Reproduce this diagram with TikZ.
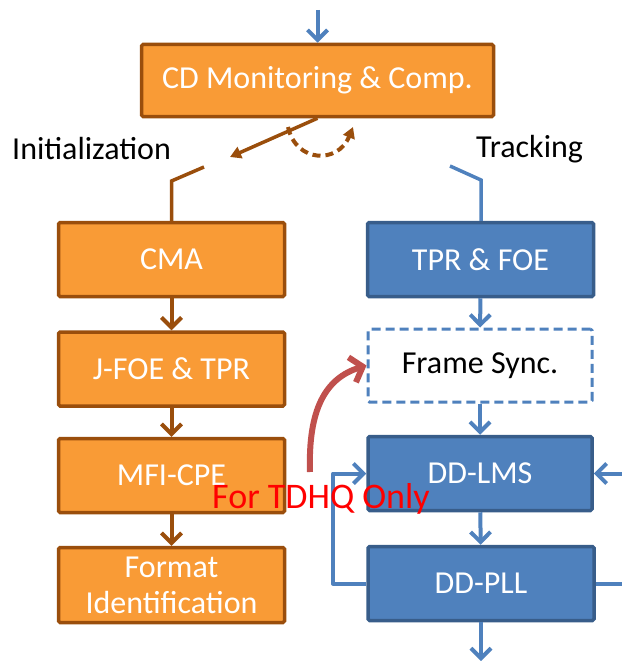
\documentclass[tikz,border=0pt]{standalone}
\usepackage{fontspec}
\setmainfont{Carlito}
\usetikzlibrary{arrows.meta}
\definecolor{orfill}{HTML}{F99B36}
\definecolor{orline}{HTML}{9A4E0C}
\definecolor{blfill}{HTML}{4F81BD}
\definecolor{blline}{HTML}{385D8A}
\definecolor{redarr}{HTML}{C0504D}
\tikzset{
  obox/.style={draw=orline, fill=orfill, line width=3.5pt, rounded corners=1.5pt, inner sep=0pt,
    text=white, font=\fontsize{32}{37}\selectfont, align=center},
  bbox/.style={draw=blline, fill=blfill, line width=3.5pt, rounded corners=1.5pt, inner sep=0pt,
    text=white, font=\fontsize{32}{37}\selectfont, align=center},
  dbox/.style={draw=blfill, fill=white, line width=3pt, rounded corners=1.5pt, inner sep=0pt,
    dash pattern=on 9pt off 5pt, text=black, font=\fontsize{32}{37}\selectfont},
  oarr/.style={draw=orline, line width=4pt, -{Straight Barb[length=10pt,width=20pt]}},
  barr/.style={draw=blfill, line width=4pt, -{Straight Barb[length=10pt,width=20pt]}},
  lbl/.style={font=\fontsize{32}{37}\selectfont, text=black, inner sep=0pt}
}
\begin{document}
\begin{tikzpicture}[x=1pt,y=-1pt]
\useasboundingbox (0,0) rectangle (621,661);
% top
\node[obox, minimum width=352pt, minimum height=72pt] (cd) at (317.5,80.5) {CD Monitoring \& Comp.};
\coordinate (in) at (317.5,10);
\draw[barr] (in) -- (cd.north);
% labels
\node[lbl, anchor=west] (init) at (12,149) {Initialization};
\node[lbl, anchor=west] (track) at (476,149) {Tracking};
% switch
\coordinate (sw) at (230,157);
\draw[orline, line width=3.5pt, -{Triangle[length=11pt,width=12pt]}] (cd.south) -- (sw);
\coordinate (da) at (288,127);
\coordinate (db) at (353,127);
\draw[orline, line width=4pt, dash pattern=on 8pt off 5pt, -{Triangle[length=11pt,width=12pt]}]
  (da) .. controls (296,163) and (338,164) .. (db);
% left column
\node[obox, minimum width=226pt, minimum height=74pt] (cma) at (171.5,259.5) {CMA};
\node[obox, minimum width=226pt, minimum height=74pt] (jfoe) at (171.5,369) {J-FOE \& TPR};
\node[obox, minimum width=226pt, minimum height=74pt] (mfi) at (171.5,475.5) {MFI-CPE};
\node[obox, minimum width=226pt, minimum height=75pt] (fmt) at (171.5,585) {Format\\[-1pt]Identification};
\coordinate (l1) at (204,167);
\coordinate (l2) at (171.5,181);
\draw[orline, line width=3.5pt] (l1) -- (l2) -- (cma.north);
\draw[oarr] (cma) -- (jfoe);
\draw[oarr] (jfoe) -- (mfi);
\draw[oarr] (mfi) -- (fmt);
% right column
\node[bbox, minimum width=226pt, minimum height=74pt] (tpr) at (480.5,259.5) {TPR \& FOE};
\node[dbox, minimum width=224pt, minimum height=73pt] (fs) at (480,365.5) {Frame Sync.};
\node[bbox, minimum width=224pt, minimum height=74pt] (lms) at (480,473.5) {DD-LMS};
\node[bbox, minimum width=226pt, minimum height=74pt] (pll) at (481,583.5) {DD-PLL};
\coordinate (r1) at (450,166);
\coordinate (r2) at (481,180);
\draw[blfill, line width=3.5pt] (r1) -- (r2) -- (tpr.north -| r2);
\draw[barr] (tpr) -- (fs);
\draw[barr] (fs) -- (lms);
\draw[barr] (lms) -- (pll);
\coordinate (out) at (481,661);
\draw[barr] (pll) -- (out);
% feedback loop
\coordinate (fb1) at (333,583.5);
\coordinate (fb2) at (333,473.5);
\draw[barr, line join=round] (pll.west) -- (fb1) -- (fb2) -- (lms.west);
\coordinate (rin) at (623,473.5);
\draw[barr] (rin) -- (lms.east);
\coordinate (rout) at (623,583.5);
\draw[blfill, line width=4pt] (pll.east) -- (rout);
% red curved arrow
\coordinate (ra) at (310,472);
\draw[redarr, line width=6pt, -{Straight Barb[length=11pt,width=26pt]}]
  (ra) .. controls (308,410) and (325,378) .. (fs.west);
\node[text=red, font=\fontsize{36}{40}\selectfont, inner sep=0pt] (tdhq) at (321,499) {For TDHQ Only};
\end{tikzpicture}
\end{document}
